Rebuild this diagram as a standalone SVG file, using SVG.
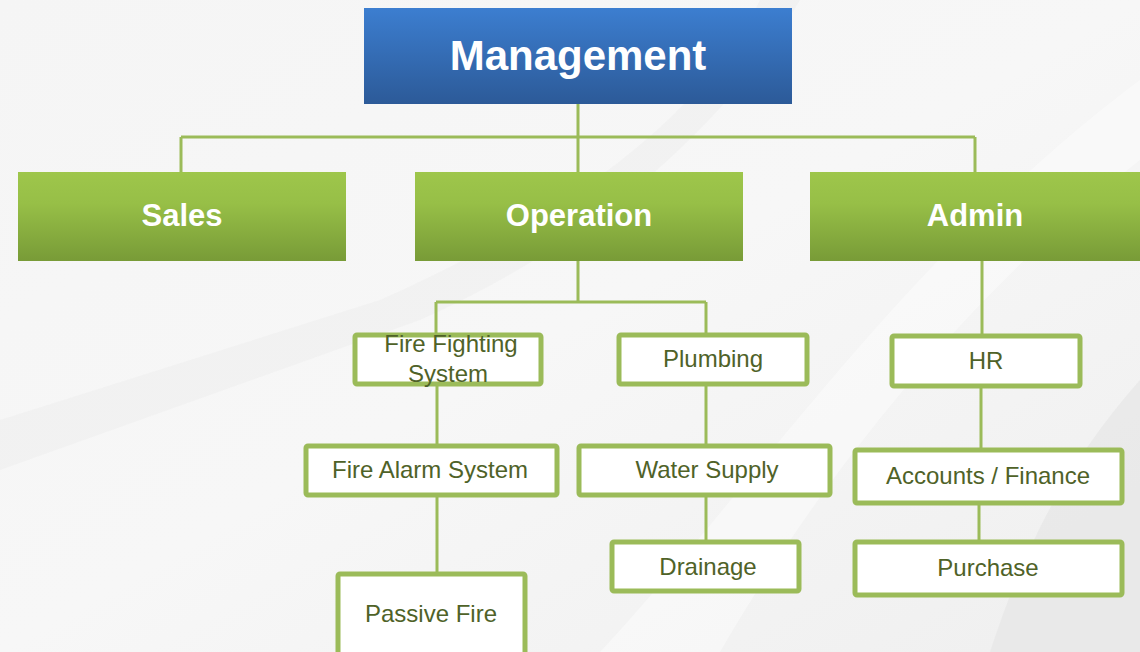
<svg xmlns="http://www.w3.org/2000/svg" width="1140" height="652" viewBox="0 0 1140 652">
<defs>
<linearGradient id="bg" x1="0" y1="0" x2="1" y2="1">
<stop offset="0" stop-color="#f5f5f5"/>
<stop offset="0.5" stop-color="#f7f7f7"/>
<stop offset="1" stop-color="#efefef"/>
</linearGradient>
<linearGradient id="blue" x1="0" y1="0" x2="0" y2="1">
<stop offset="0" stop-color="#3c7ed0"/>
<stop offset="1" stop-color="#2c5a98"/>
</linearGradient>
<linearGradient id="green" x1="0" y1="0" x2="0" y2="1">
<stop offset="0" stop-color="#9ec64b"/>
<stop offset="0.35" stop-color="#97bf47"/>
<stop offset="1" stop-color="#789b37"/>
</linearGradient>
<style>
.hdr{font-family:"Liberation Sans",Arial,sans-serif;font-weight:bold;fill:#ffffff;text-anchor:middle}
.sub rect{fill:#ffffff;stroke:#9bbb59;stroke-width:5}
.sub text{font-family:"Liberation Sans",Arial,sans-serif;font-size:24px;fill:#4f6228;text-anchor:middle}
#connectors path{fill:none;stroke:#9bbb59;stroke-width:3}
</style>
</defs>
<rect width="1140" height="652" fill="url(#bg)"/>
<path d="M600 652 C760 480 900 260 1140 80 L1140 160 C960 300 820 480 720 652 Z" fill="#ffffff" opacity="0.4"/>
<path d="M760 0 C700 120 560 220 380 300 L0 420 L0 470 L420 320 C600 240 730 120 800 0 Z" fill="#ebebeb" opacity="0.4"/>
<path d="M1140 380 C1060 470 1020 560 990 652 L1140 652 Z" fill="#e4e4e4" opacity="0.6"/>
<g id="connectors">
<path d="M578 104 V137 M181 137 H975 M181 137 V172 M578 137 V172 M975 137 V172"/>
<path d="M578 261 V302 M436 302 H706 M436 302 V333 M706 302 V333"/>
<path d="M437 386 V444 M437 497 V572"/>
<path d="M706 386 V444 M706 497 V540"/>
<path d="M982 261 V334 M981 388 V448 M979 505 V540"/>
</g>
<g id="management">
<rect x="364" y="8" width="428" height="96" fill="url(#blue)"/>
<text class="hdr" x="578" y="70" font-size="42">Management</text>
</g>
<g id="sales">
<rect x="18" y="172" width="328" height="89" fill="url(#green)"/>
<text class="hdr" x="182" y="226" font-size="31">Sales</text>
</g>
<g id="operation">
<rect x="415" y="172" width="328" height="89" fill="url(#green)"/>
<text class="hdr" x="579" y="226" font-size="31">Operation</text>
</g>
<g id="admin">
<rect x="810" y="172" width="330" height="89" fill="url(#green)"/>
<text class="hdr" x="975" y="226" font-size="31">Admin</text>
</g>
<g id="fire-fighting" class="sub">
<rect x="355" y="335" width="186" height="49" rx="2"/>
<text x="451" y="352">Fire Fighting</text>
<text x="448" y="382">System</text>
</g>
<g id="plumbing" class="sub">
<rect x="619" y="335" width="188" height="49" rx="2"/>
<text x="713" y="367">Plumbing</text>
</g>
<g id="fire-alarm" class="sub">
<rect x="306" y="446" width="251" height="49" rx="2"/>
<text x="430" y="478">Fire Alarm System</text>
</g>
<g id="water-supply" class="sub">
<rect x="579" y="446" width="251" height="49" rx="2"/>
<text x="707" y="478">Water Supply</text>
</g>
<g id="drainage" class="sub">
<rect x="612" y="542" width="187" height="49" rx="2"/>
<text x="708" y="575">Drainage</text>
</g>
<g id="passive-fire" class="sub">
<rect x="338" y="574" width="187" height="85" rx="2"/>
<text x="431" y="622">Passive Fire</text>
</g>
<g id="hr" class="sub">
<rect x="892" y="336" width="188" height="50" rx="2"/>
<text x="986" y="369">HR</text>
</g>
<g id="accounts" class="sub">
<rect x="855" y="450" width="267" height="53" rx="2"/>
<text x="988" y="484">Accounts / Finance</text>
</g>
<g id="purchase" class="sub">
<rect x="855" y="542" width="267" height="53" rx="2"/>
<text x="988" y="576">Purchase</text>
</g>
</svg>
